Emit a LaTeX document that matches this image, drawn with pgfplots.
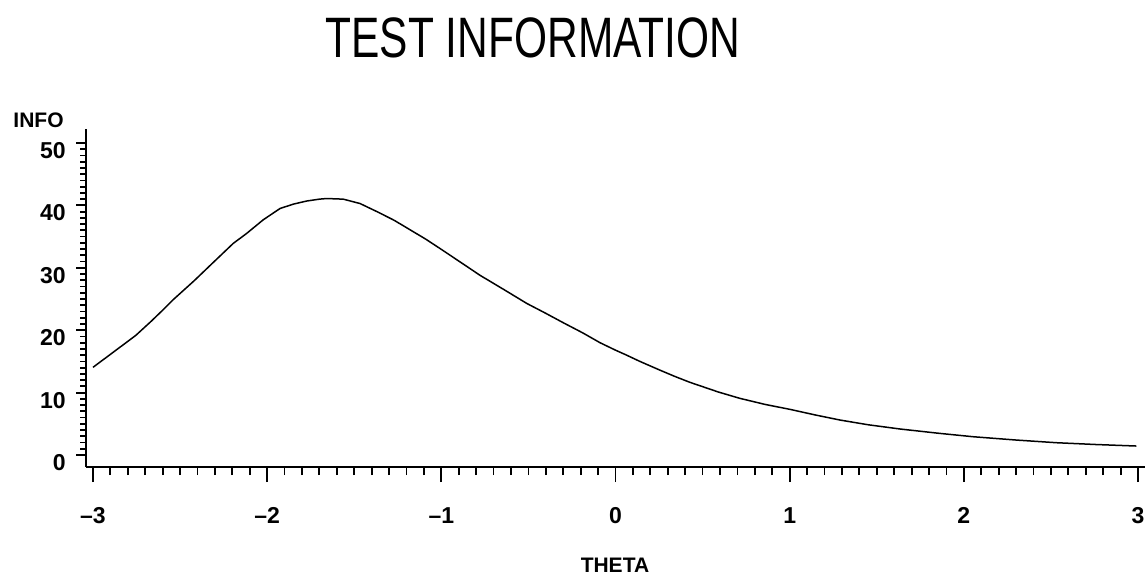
\documentclass[border=0pt]{standalone}
\usepackage{fontspec}
\setmainfont{Liberation Sans}
\usepackage{graphicx}
\usepackage{pgfplots}
\pgfplotsset{compat=1.18}

\newcommand{\tickfont}{\fontsize{11.5bp}{13bp}\selectfont\bfseries}
\newcommand{\labelfont}{\fontsize{10.5bp}{12bp}\selectfont\bfseries}

\begin{document}
\begin{tikzpicture}
\useasboundingbox (0,0) rectangle (572.5bp,288bp);
\begin{axis}[
  at={(43bp,54.5bp)}, anchor=south west,
  scale only axis, width=529.5bp, height=169bp,
  xmin=-3.04, xmax=3.04, ymin=-1.92, ymax=52.24,
  axis lines=left,
  axis line style={-, line width=1bp, black},
  /pgf/number format/assume math mode=true,
  xtick={-3,-2,-1,0,1,2,3},
  xticklabels={--3,--2,--1,0,1,2,3},
  ytick={0,10,20,30,40,50},
  yticklabels={0,10,20,30,40,50},
  minor x tick num=9, minor y tick num=9,
  tick align=outside,
  major tick length=6bp, minor tick length=3.5bp,
  xtick style={/pgfplots/major tick length=7.5bp, /pgfplots/minor tick length=4bp},
  ytick style={/pgfplots/major tick length=5bp, /pgfplots/minor tick length=3bp},
  tick style={line width=0.9bp, black},
  xticklabel style={font=\tickfont, anchor=north, inner sep=0pt, yshift=-14bp},
  yticklabel style={font=\tickfont, anchor=north east, inner sep=0pt, xshift=-4bp, yshift=0.5bp},
  title={\scalebox{0.745}[1]{TEST INFORMATION}},
  every axis title/.style={at={(axis description cs:0.422,1.213)}, anchor=base,
    font=\fontsize{28.5bp}{30bp}\selectfont, inner sep=0pt},
  xlabel={THETA},
  ylabel={INFO},
  every axis x label/.style={at={(axis description cs:0.4995,-0.3136)},
    anchor=base, font=\labelfont, inner sep=0pt},
  every axis y label/.style={at={(axis description cs:-0.0689,1.003)},
    anchor=base west, font=\labelfont, inner sep=0pt},
]
\addplot[black, line width=0.75bp] coordinates {
  (-3.000,14.05) (-2.935,15.4) (-2.868,16.8) (-2.810,18.0) (-2.753,19.2)
  (-2.667,21.4) (-2.600,23.2) (-2.543,24.8) (-2.420,27.9) (-2.319,30.6)
  (-2.195,33.9) (-2.118,35.5) (-2.022,37.7) (-1.926,39.5) (-1.850,40.2)
  (-1.773,40.7) (-1.700,41.0) (-1.658,41.1) (-1.563,41.0) (-1.467,40.3)
  (-1.362,38.9) (-1.270,37.6) (-1.180,36.1) (-1.090,34.6) (-1.008,33.1)
  (-0.890,30.9) (-0.778,28.8) (-0.640,26.5) (-0.510,24.3) (-0.400,22.7)
  (-0.300,21.2) (-0.190,19.6) (-0.089,18.0) (0.000,16.8) (0.064,16.0)
  (0.140,15.0) (0.255,13.6) (0.340,12.6) (0.427,11.65) (0.590,10.1)
  (0.714,9.08) (0.860,8.1) (1.001,7.32) (1.150,6.4) (1.288,5.61)
  (1.450,4.85) (1.633,4.17) (1.850,3.5) (2.053,2.93) (2.300,2.4)
  (2.532,1.97) (2.760,1.68) (2.991,1.44)
};
\end{axis}
\end{tikzpicture}
\end{document}
